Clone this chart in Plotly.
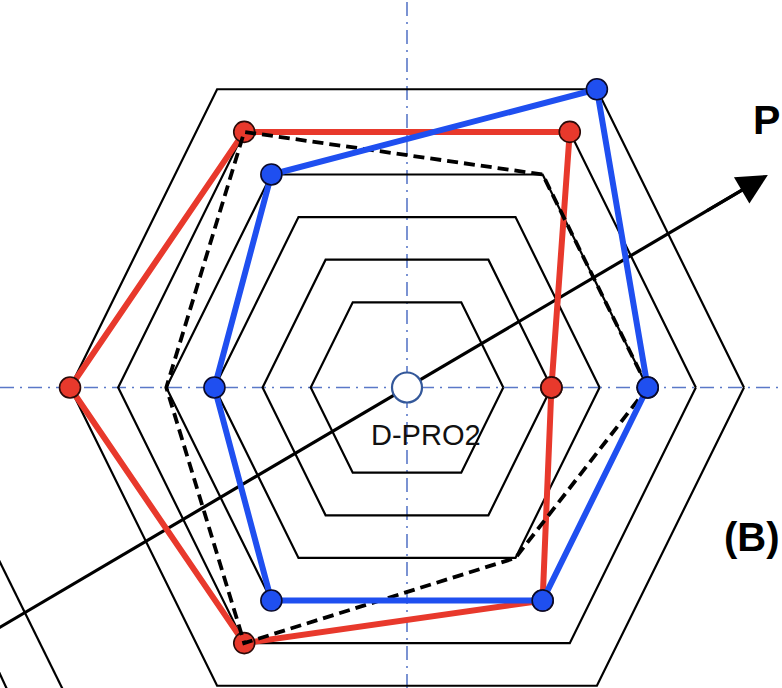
import numpy as np
import plotly.graph_objects as go

# Rings of the hexagonal scale and the three profiles (one value per spoke).
# Spokes run counter-clockwise, starting at the right-hand vertex.
levels = [1, 2, 3, 4, 5, 6]
spokes = ["right", "upper right", "upper left", "left", "lower left", "lower right"]
red_profile = [2, 5, 5, 6, 5, 4]
blue_profile = [4, 6, 4, 3, 4, 4]
dashed_profile = [4, 4, 5, 4, 5, 3]
centre_label = "D-PRO2"
axis_label = "P"
panel_label = "(B)"

# --- geometry ---------------------------------------------------------------
W, H = 782, 688
PX = 48.14                 # pixels per radial unit
CX, CY = 407.0, 387.5      # pixel position of the centre
RING_OFFSET = 1.0          # radius of level 0 (rings start away from the centre)
DIRS = np.array([[1.0, 0.0], [0.5635, 0.885], [-0.5635, 0.885],
                 [-1.0, 0.0], [-0.5635, -0.885], [0.5635, -0.885]])
ARROW_DEG = 30.5

RED = "#e8392c"
BLUE = "#1f4ff0"
AXIS_BLUE = "#5a78c8"


def polygon(values):
    r = np.asarray(values, dtype=float) + RING_OFFSET
    pts = DIRS * r[:, None]
    pts = np.vstack([pts, pts[:1]])
    return pts[:, 0], pts[:, 1]


fig = go.Figure()

# hexagonal rings
for lv in levels:
    x, y = polygon([lv] * len(spokes))
    fig.add_trace(go.Scatter(x=x, y=y, mode="lines",
                             line=dict(color="black", width=2.2),
                             hoverinfo="skip", showlegend=False))

# arrow shaft through the centre
a = np.deg2rad(ARROW_DEG)
t = np.array([-10.5, 8.3])
fig.add_trace(go.Scatter(x=t * np.cos(a), y=t * np.sin(a), mode="lines",
                         line=dict(color="black", width=3.2),
                         hoverinfo="skip", showlegend=False))

# profiles: red, dashed black, blue
x, y = polygon(red_profile)
fig.add_trace(go.Scatter(x=x, y=y, mode="lines+markers", name="red",
                         line=dict(color=RED, width=6),
                         marker=dict(size=21, color=RED,
                                     line=dict(color="#2a0a08", width=1.6)),
                         showlegend=False))
x, y = polygon(dashed_profile)
fig.add_trace(go.Scatter(x=x, y=y, mode="lines", name="dashed",
                         line=dict(color="black", width=3.8, dash="11px,6px"),
                         showlegend=False))
x, y = polygon(blue_profile)
fig.add_trace(go.Scatter(x=x, y=y, mode="lines+markers", name="blue",
                         line=dict(color=BLUE, width=6),
                         marker=dict(size=21, color=BLUE,
                                     line=dict(color="#0a0a2a", width=1.6)),
                         showlegend=False))

# centre marker
fig.add_trace(go.Scatter(x=[0], y=[0], mode="markers",
                         marker=dict(size=30, color="white",
                                     line=dict(color="#34589a", width=2.2)),
                         hoverinfo="skip", showlegend=False))

# dash-dot reference axes
dashdot = dict(color=AXIS_BLUE, width=1.6, dash="14px,6px,2px,6px")
fig.add_shape(type="line", xref="paper", yref="y", x0=0, x1=1, y0=0, y1=0,
              line=dashdot, layer="below")
fig.add_shape(type="line", xref="x", yref="paper", x0=0, x1=0, y0=0, y1=1,
              line=dashdot, layer="below")

# edges of the neighbouring drawing at the lower left
for (px0, py0, px1, py1) in [(-10, 542, 70, 704), (-8, 657, 12, 700)]:
    fig.add_shape(type="line", xref="paper", yref="paper",
                  x0=px0 / W, y0=1 - py0 / H, x1=px1 / W, y1=1 - py1 / H,
                  line=dict(color="black", width=2.2), layer="below")

# arrow head
tip = 8.7
fig.add_annotation(x=tip * np.cos(a), y=tip * np.sin(a),
                   ax=(tip - 1.5) * np.cos(a), ay=(tip - 1.5) * np.sin(a),
                   xref="x", yref="y", axref="x", ayref="y", text="",
                   showarrow=True, arrowhead=2, arrowsize=1.9, arrowwidth=3.2,
                   arrowcolor="black", standoff=0)

# labels
fig.add_annotation(x=0.39, y=-0.98, xref="x", yref="y", text=centre_label,
                   showarrow=False, xanchor="center", yanchor="middle",
                   font=dict(family="Liberation Sans, Arial", size=29, color="#111"))
fig.add_annotation(x=1.0, y=1 - 120 / H, xref="paper", yref="paper",
                   text=f"<b>{axis_label}</b>", showarrow=False,
                   xanchor="right", yanchor="middle",
                   font=dict(family="Liberation Sans, Arial", size=41, color="black"))
fig.add_annotation(x=1.0, y=1 - 537 / H, xref="paper", yref="paper",
                   text=f"<b>{panel_label}</b>", showarrow=False,
                   xanchor="right", yanchor="middle",
                   font=dict(family="Liberation Sans, Arial", size=40, color="black"))

fig.update_layout(
    width=W, height=H, margin=dict(l=0, r=0, t=0, b=0),
    paper_bgcolor="white", plot_bgcolor="white",
    xaxis=dict(range=[-CX / PX, (W - CX) / PX], visible=False, fixedrange=True),
    yaxis=dict(range=[-(H - CY) / PX, CY / PX], visible=False, fixedrange=True),
    showlegend=False,
)

fig.write_html("out.html")
